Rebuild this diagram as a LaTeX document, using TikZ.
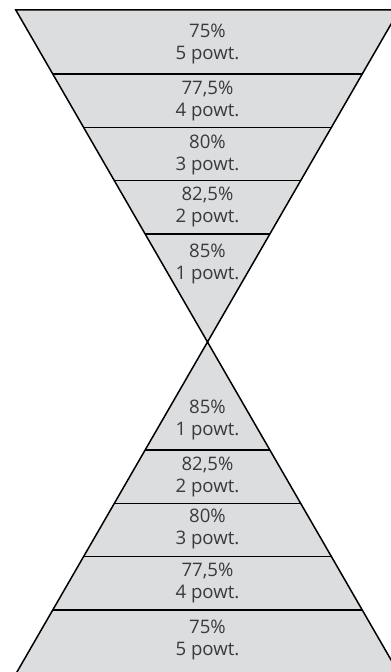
\documentclass[tikz,border=0pt]{standalone}
\usepackage{fontspec}
\setmainfont{Open Sans}
\usetikzlibrary{calc}
\definecolor{bandgray}{HTML}{DCDDDF}
\definecolor{txtgray}{HTML}{3A3A3A}

\begin{document}
\begin{tikzpicture}[x=0.02cm, y=0.02cm, every node/.style={align=center, text=txtgray,
inner sep=0pt, font=\fontsize{10.6}{12.5}\selectfont}, edge/.style={line width=0.85pt}]
\useasboundingbox (0,0) rectangle (391,672);
\clip (0,0) rectangle (391,672);
\coordinate (o) at (207.5,330);
% two triangles meeting at the tip
\filldraw[edge, fill=bandgray] (o) -- ++(-191.7,332) -- ++(383.4,0) -- cycle;
\filldraw[edge, fill=bandgray] (o) -- ++(-191.7,-332) -- ++(383.4,0) -- cycle;
\foreach \d in {108, 161.3, 214.7, 268}{
\draw[edge] ($(o)+({-0.57735*\d},\d)$) -- ($(o)+({0.57735*\d},\d)$);
\draw[edge] ($(o)+({-0.57735*\d},-\d)$) -- ($(o)+({0.57735*\d},-\d)$);}
\foreach \i/\d/\p in {5/298/75\%, 4/241/{77,5\%}, 3/187/80\%, 2/135/{82,5\%}, 1/78/85\%}{
\node (t\i) at ($(o)+(0,\d)$) {\p\\\i\ powt.};
\node (b\i) at ($(o)+(0,-\d)$) {\p\\\i\ powt.};}
\end{tikzpicture}
\end{document}
